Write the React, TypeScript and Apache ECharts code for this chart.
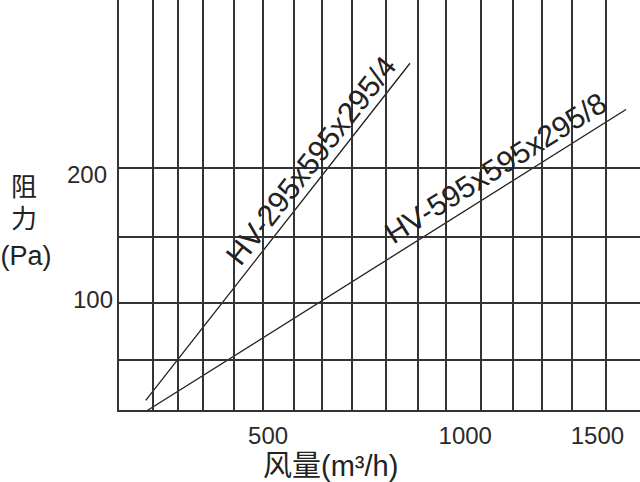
import React, { useEffect, useRef } from "react";
import * as echarts from "echarts";

// x positions (m³/h) of the vertical grid lines
const xGridValues = [107, 184, 261, 356, 443, 540, 625, 717, 820, 919, 1006, 1113, 1210, 1299, 1391, 1494];
// y positions (Pa) of the horizontal grid lines
const yGridValues = [58, 100, 149, 200];
// tick labels
const xTickValues = [500, 1000, 1500];
const yTickValues = [100, 200];
// series
const series1Name = "HV-295x595x295/4";
const series1Data: number[][] = [[85, 27.9], [895, 277.2]];
const series2Name = "HV-595x595x295/8";
const series2Data: number[][] = [[91, 20.5], [1557, 243]];

const LAT = '"Liberation Sans", Arial, sans-serif';
const CJK = '"Noto Sans CJK SC", sans-serif';
const MIX = '"Liberation Sans", "Noto Sans CJK SC", sans-serif';

export default function App() {
  const ref = useRef<HTMLDivElement>(null);
  useEffect(() => {
    if (!ref.current) return;
    const chart = echarts.init(ref.current, null, { renderer: "svg" });
    const gridColor = "#333";
    const lineColor = "#1e1e1e";
    const xRich: any = {
      t0: { fontFamily: LAT, fontSize: 24, color: "#2a2a2a", padding: [0, 26, 0, 0] },
      t1: { fontFamily: LAT, fontSize: 24, color: "#2a2a2a", padding: [0, 0, 0, 42] },
      t2: { fontFamily: LAT, fontSize: 24, color: "#2a2a2a", padding: [0, 20, 0, 0] },
    };
    const yRich: any = {
      t0: { fontFamily: LAT, fontSize: 24, color: "#2a2a2a", padding: [0, 0, 6, 0] },
      t1: { fontFamily: LAT, fontSize: 24, color: "#2a2a2a", padding: [14, 6, 0, 0] },
    };
    const gridLines: any[] = [
      ...xGridValues.map((v) => ({ xAxis: v })),
      ...yGridValues.map((v) => ({ yAxis: v })),
    ];
    const labelMark = (data: number[][], name: string, dist: number[]) => ({
      silent: true,
      symbol: ["none", "none"],
      lineStyle: { color: "rgba(0,0,0,0)", width: 1, type: "solid" },
      label: {
        show: true,
        formatter: name,
        position: "insideEndTop",
        distance: dist,
        fontFamily: LAT,
        fontSize: 30,
        color: "#222",
      },
      data: [[{ coord: data[0] }, { coord: data[data.length - 1] }]],
    });
    chart.setOption({
      animation: false,
      backgroundColor: "#fff",
      grid: { left: 118, right: 0, top: 0, bottom: 71, containLabel: false, outerBoundsMode: "none" },
      xAxis: {
        type: "value",
        min: 0,
        max: 1600,
        axisLine: { show: true, lineStyle: { color: gridColor, width: 2 } },
        axisTick: { show: false },
        splitLine: { show: false },
        axisLabel: {
          customValues: xTickValues,
          margin: 12,
          formatter: (v: number) => `{t${xTickValues.indexOf(v)}|${v}}`,
          rich: xRich,
        },
      },
      yAxis: {
        type: "value",
        min: 20,
        max: 324,
        axisLine: { show: true, lineStyle: { color: gridColor, width: 2 } },
        axisTick: { show: false },
        splitLine: { show: false },
        axisLabel: {
          customValues: yTickValues,
          margin: 5,
          formatter: (v: number) => `{t${yTickValues.indexOf(v)}|${v}}`,
          rich: yRich,
        },
      },
      graphic: [
        { type: "text", x: 24, y: 184, style: { text: "阻", fontFamily: CJK, fontSize: 26, fill: "#222", align: "center", verticalAlign: "middle" } },
        { type: "text", x: 24, y: 216, style: { text: "力", fontFamily: CJK, fontSize: 26, fill: "#222", align: "center", verticalAlign: "middle" } },
        { type: "text", x: 26, y: 256, style: { text: "(Pa)", fontFamily: LAT, fontSize: 27, fill: "#222", align: "center", verticalAlign: "middle" } },
        {
          type: "text",
          x: 263,
          y: 466,
          style: {
            text: "风量(m³/h)",
            fontFamily: MIX,
            fontSize: 29,
            fill: "#222",
            align: "left",
            verticalAlign: "middle",
          },
        },
      ],
      series: [
        {
          type: "line",
          name: "grid",
          data: [],
          silent: true,
          z: 1,
          markLine: {
            silent: true,
            symbol: ["none", "none"],
            label: { show: false },
            lineStyle: { type: "solid", color: gridColor, width: 2 },
            data: gridLines,
          },
        },
        {
          type: "line",
          name: series1Name,
          data: series1Data,
          showSymbol: false,
          symbol: "none",
          z: 3,
          lineStyle: { color: lineColor, width: 1.3 },
          markLine: labelMark(series1Data, series1Name, [10, 3]),
        },
        {
          type: "line",
          name: series2Name,
          data: series2Data,
          showSymbol: false,
          symbol: "none",
          z: 3,
          lineStyle: { color: lineColor, width: 1.3 },
          markLine: labelMark(series2Data, series2Name, [14, 5]),
        },
      ],
    });
    return () => chart.dispose();
  }, []);
  return (
    <div
      ref={ref}
      style={{ position: "fixed", left: 0, top: 0, width: 640, height: 482, background: "#fff" }}
    />
  );
}
